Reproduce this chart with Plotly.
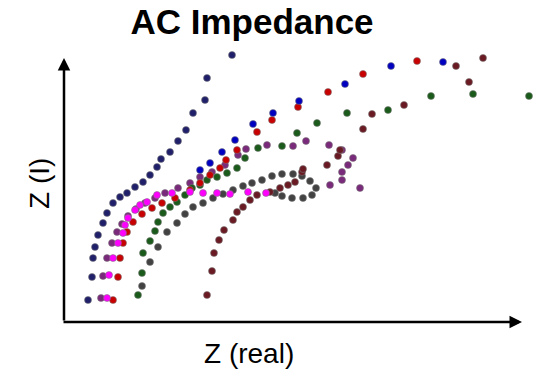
import plotly.graph_objects as go

# Data (x = Z real, y = Z imaginary, arbitrary units)
navy_x = [24, 28, 29, 31, 34, 39, 43, 49, 56, 63, 71, 79, 86, 93, 97, 106, 114, 122, 129, 141, 143, 168]
navy_y = [22, 45, 64, 75, 87, 99, 109, 119, 125, 129, 135, 140, 147, 155, 163, 170, 181, 192, 209, 222, 244, 267]

purple_x = [37, 39, 43, 48, 53, 58, 64, 72, 81, 91, 101, 114, 126, 136, 148, 161, 174, 182, 203, 229, 242, 265, 278, 289, 284, 278, 278, 266, 296]
purple_y = [24, 46, 64, 79, 90, 98, 106, 113, 119, 124, 129, 134, 139, 145, 150, 157, 167, 173, 177, 176, 181, 177, 172, 164, 157, 150, 142, 137, 134]

magenta_x = [43, 45, 49, 54, 59, 61, 64, 71, 76, 83, 93, 108, 126, 139, 153, 166, 184, 202]
magenta_y = [24, 47, 64, 79, 89, 97, 104, 112, 117, 120, 127, 129, 130, 129, 129, 128, 130, 129]

red_x = [49, 54, 56, 59, 63, 69, 78, 88, 98, 111, 126, 136, 146, 156, 162, 173, 193, 208, 234, 264, 299, 353]
red_y = [22, 45, 64, 79, 90, 100, 108, 114, 119, 124, 132, 139, 147, 154, 162, 172, 190, 202, 215, 230, 248, 261]

blue_x = [136, 146, 158, 171, 189, 209, 235, 281, 327, 379]
blue_y = [152, 159, 170, 182, 198, 209, 221, 238, 256, 260]

green_x = [74, 78, 79, 86, 91, 94, 99, 106, 113, 121, 128, 136, 143, 153, 163, 173, 181, 194, 218, 233, 253, 283, 324, 367, 409, 465]
green_y = [27, 49, 69, 81, 91, 100, 109, 115, 120, 127, 134, 137, 142, 145, 149, 154, 164, 174, 176, 189, 199, 209, 212, 226, 228, 226]

gray_x = [78, 86, 94, 103, 113, 121, 129, 139, 149, 159, 169, 179, 188, 198, 208, 218, 229, 238, 246, 252, 248, 239, 228, 218, 211]
gray_y = [36, 60, 75, 90, 99, 108, 115, 119, 124, 128, 132, 136, 139, 142, 146, 148, 148, 146, 141, 134, 127, 124, 124, 126, 129]

maroon_x = [143, 148, 150, 155, 160, 169, 173, 179, 186, 193, 206, 216, 224, 231, 238, 239, 263, 274, 276, 299, 308, 340, 392, 405, 419]
maroon_y = [27, 51, 69, 82, 92, 102, 110, 115, 122, 127, 130, 134, 137, 140, 150, 153, 157, 166, 172, 193, 208, 217, 256, 240, 264]

title_text = "AC Impedance"
x_label = "Z (real)"
y_label = "Z (I)"

series = [
    (navy_x, navy_y, "#20206a"),
    (purple_x, purple_y, "#7a2a7a"),
    (green_x, green_y, "#1a5a1a"),
    (gray_x, gray_y, "#424242"),
    (maroon_x, maroon_y, "#6a1a22"),
    (red_x, red_y, "#c80000"),
    (blue_x, blue_y, "#0000c0"),
    (magenta_x, magenta_y, "#ff00ff"),
]

fig = go.Figure()
for xs, ys, col in series:
    fig.add_trace(go.Scatter(
        x=xs, y=ys, mode="markers",
        marker=dict(size=7, color=col, line=dict(width=1, color="rgba(120,120,120,0.55)")),
        showlegend=False, cliponaxis=False, hoverinfo="skip",
    ))

# axes with arrows
fig.add_annotation(x=458, y=0, ax=-2, ay=0, xref="x", yref="y", axref="x", ayref="y",
                   text="", showarrow=True, arrowhead=2, arrowsize=1, arrowwidth=2.5, arrowcolor="black")
fig.add_annotation(x=0, y=264, ax=0, ay=0, xref="x", yref="y", axref="x", ayref="y",
                   text="", showarrow=True, arrowhead=2, arrowsize=1, arrowwidth=2.5, arrowcolor="black")

fig.add_annotation(x=(249 - 64) / 474, y=(322 - 353) / 282, xref="paper", yref="paper",
                   text=x_label, showarrow=False, xanchor="center", yanchor="middle",
                   font=dict(family="Liberation Sans, Arial", size=28, color="black"))
fig.add_annotation(x=(39 - 64) / 474, y=(322 - 184) / 282, xref="paper", yref="paper",
                   text=y_label, showarrow=False, textangle=-90, xanchor="center", yanchor="middle",
                   font=dict(family="Liberation Sans, Arial", size=28, color="black"))

fig.update_layout(
    width=538, height=372,
    margin=dict(l=64, r=0, t=40, b=50),
    paper_bgcolor="white", plot_bgcolor="white",
    title=dict(text="<b>" + title_text + "</b>", x=252 / 538, xanchor="center",
               yref="container", y=1 - 22 / 372, yanchor="middle",
               font=dict(family="Liberation Sans, Arial", size=35, color="black")),
    xaxis=dict(range=[0, 474], visible=False),
    yaxis=dict(range=[0, 282], visible=False),
)

fig.write_html("out.html")
